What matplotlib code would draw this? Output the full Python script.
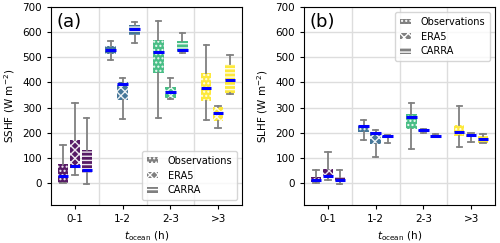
"""
Box plots of turbulent heat fluxes (SSHF, SLHF) per ocean residence time bin.
"""

import numpy as np
import matplotlib.pyplot as plt
from matplotlib.patches import Patch

#######################################################################################################################
# Data

bins = ['0-1', '1-2', '2-3', '>3']
sources = ['Observations', 'ERA5', 'CARRA']
hatches = ['....', 'xxxx', '----']

# SSHF: rows = source, columns = bin
sshf_lo  = [[0, 488, 260, 250], [30, 256, 336, 218], [-3, 555, 518, 353]]
sshf_q1  = [[0, 512, 437, 325], [58, 329, 338, 245], [38, 587, 520, 359]]
sshf_med = [[26, 528, 521, 378], [67, 395, 360, 280], [50, 611, 528, 411]]
sshf_q3  = [[77, 545, 570, 438], [172, 402, 383, 304], [133, 627, 565, 472]]
sshf_hi  = [[150, 564, 644, 548], [320, 418, 417, 307], [260, 642, 598, 508]]

# SLHF
slhf_lo  = [[0, 172, 137, 143], [11, 105, 200, 165], [-3, 160, 183, 158]]
slhf_q1  = [[2, 203, 216, 186], [24, 156, 204, 182], [4, 178, 186, 160]]
slhf_med = [[10, 227, 263, 203], [26, 200, 210, 190], [11, 185, 188, 174]]
slhf_q3  = [[25, 232, 276, 229], [57, 203, 212, 197], [24, 190, 190, 185]]
slhf_hi  = [[50, 249, 318, 305], [123, 210, 213, 200], [53, 192, 193, 195]]

colors = plt.cm.viridis(np.linspace(0, 1, 4))


def draw_panel(ax, lo, q1, med, q3, hi, ylabel, letter, legend_loc):
    offsets = [-0.25, 0.0, 0.25]
    for s in range(3):
        stats = []
        for b in range(4):
            stats.append(dict(whislo=lo[s][b], q1=q1[s][b], med=med[s][b],
                              q3=q3[s][b], whishi=hi[s][b], fliers=[]))
        pos = np.arange(1, 5) + offsets[s]
        bp = ax.bxp(stats, positions=pos, widths=0.22, patch_artist=True,
                    manage_ticks=False,
                    whiskerprops=dict(color='gray', lw=1.3),
                    capprops=dict(color='gray', lw=1.3),
                    medianprops=dict(color='blue', lw=2.2))
        for b, box in enumerate(bp['boxes']):
            box.set_facecolor(colors[b])
            box.set_alpha(0.9)
            box.set_edgecolor('white')
            box.set_linewidth(0)
            box.set_hatch(hatches[s])

    ax.set_xlim(0.5, 4.5)
    ax.set_ylim(-88, 700)
    ax.set_xticks(range(1, 5))
    ax.set_xticklabels(bins)
    ax.set_xticks([1.5, 2.5, 3.5], minor=True)
    ax.tick_params(axis='x', which='minor', length=0)
    ax.set_yticks(np.arange(0, 701, 100))
    ax.grid(axis='y', which='major', color='#dddddd', lw=1)
    ax.grid(axis='x', which='minor', color='#dddddd', lw=1)
    ax.set_axisbelow(True)
    ax.tick_params(labelsize=7.5, length=3)
    ax.set_ylabel(ylabel, fontsize=7.5)
    ax.set_xlabel(r'$t_\mathrm{ocean}$ (h)', fontsize=7.5)
    ax.text(0.03, 0.97, letter, transform=ax.transAxes, fontsize=13,
            va='top', ha='left')

    handles = [Patch(facecolor='gray', edgecolor='white', lw=0, hatch=h, label=l)
               for h, l in zip(hatches, sources)]
    ax.legend(handles=handles, loc=legend_loc, fontsize=7, handlelength=1.1,
              handleheight=0.5, handletextpad=1.0, borderpad=0.5,
              labelspacing=0.5)


#######################################################################################################################
# Code execution

if __name__ == "__main__":

    plt.rcParams['hatch.color'] = 'white'
    plt.rcParams['hatch.linewidth'] = 1.0

    fig = plt.figure(figsize=(5, 2.43), dpi=100)
    ax1 = fig.add_axes([0.102, 0.156, 0.382, 0.815])
    ax2 = fig.add_axes([0.608, 0.156, 0.382, 0.815])

    draw_panel(ax1, sshf_lo, sshf_q1, sshf_med, sshf_q3, sshf_hi,
               r'SSHF (W m$^{-2}$)', '(a)', 'lower right')
    draw_panel(ax2, slhf_lo, slhf_q1, slhf_med, slhf_q3, slhf_hi,
               r'SLHF (W m$^{-2}$)', '(b)', 'upper right')

    plt.savefig('out.png', dpi=100)
